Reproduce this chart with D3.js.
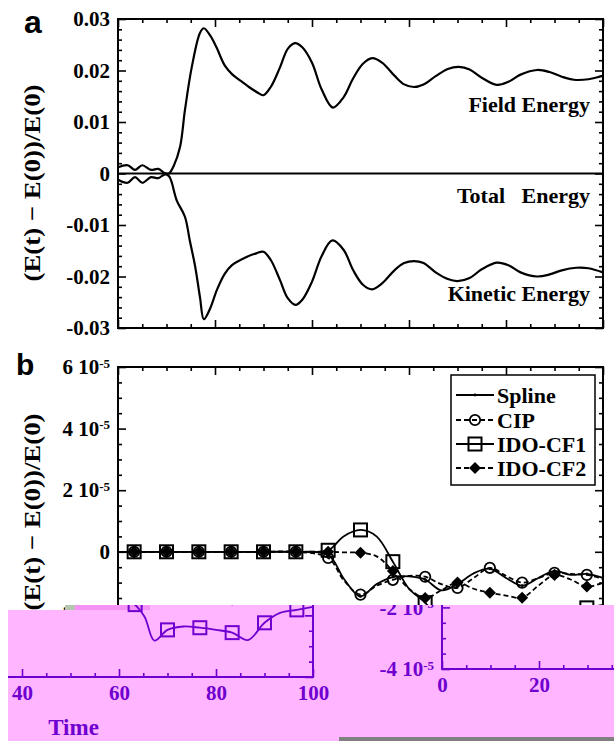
<!DOCTYPE html>
<html>
<head>
<meta charset="utf-8">
<script src="https://cdn.jsdelivr.net/npm/d3@7"></script>
<style>
  body { margin: 0; background: #fff; }
  svg { display: block; }
  text { font-family: "Liberation Serif", "Times New Roman", serif; font-weight: bold; }
</style>
</head>
<body>
<svg id="fig" width="614" height="741"></svg>
<script>
// ---------- Panel a: relative energy change ----------
const fieldT = [0, 2, 3.5, 5, 6.8, 8.3, 9.6, 10.5, 11.5, 12.8, 13.8, 15.2, 16.9, 17.7, 19, 20.3, 22, 23.5, 25, 27, 29, 30, 31.5, 33.4, 35, 36.5, 38, 40, 42, 44.3, 46.5, 48.5, 50.5, 52.4, 54.5, 57, 59, 61, 63, 65.5, 68, 70.3, 72.5, 75, 78.1, 80.5, 83, 86.4, 89, 91.5, 94, 97, 100];
const fieldV = [0.0012, 0.0016, 0.0007, 0.0016, 0.0007, 0.0009, 0.0001, 0.0, 0.0015, 0.0052, 0.0123, 0.0206, 0.0273, 0.0282, 0.0268, 0.0245, 0.021, 0.0193, 0.0182, 0.0168, 0.0156, 0.0152, 0.0168, 0.0206, 0.0242, 0.0253, 0.0245, 0.0215, 0.0163, 0.0128, 0.0148, 0.0185, 0.0213, 0.0224, 0.0215, 0.019, 0.0173, 0.0168, 0.0173, 0.0189, 0.0203, 0.0207, 0.0202, 0.0186, 0.0172, 0.0178, 0.0192, 0.0201, 0.0197, 0.0188, 0.0182, 0.0183, 0.019];

const kineticT = [0, 2, 3.5, 5, 6.8, 8.3, 9.6, 10.5, 11, 12.1, 13.8, 14.8, 15.9, 16.9, 17.7, 19, 20.4, 22, 23.5, 26.5, 28.5, 30, 31.5, 33.4, 35, 36.6, 38, 40, 42, 44.2, 46.5, 48.5, 50.5, 52.4, 54.5, 57, 59, 61, 63, 65.5, 68, 70, 72.5, 75, 78.1, 80.5, 83, 86.4, 89, 91.5, 94.5, 97, 100];
const kineticV = [-0.0012, -0.0018, -0.0007, -0.0018, -0.0007, -0.0009, -0.0002, -0.0005, -0.0015, -0.0052, -0.0084, -0.013, -0.018, -0.024, -0.0283, -0.0262, -0.0226, -0.0195, -0.0178, -0.0162, -0.0155, -0.0152, -0.0168, -0.0207, -0.0242, -0.0255, -0.0245, -0.021, -0.016, -0.013, -0.0148, -0.0188, -0.0216, -0.0225, -0.0213, -0.0188, -0.0174, -0.017, -0.0174, -0.0192, -0.0205, -0.0209, -0.0203, -0.0186, -0.0173, -0.0178, -0.0192, -0.02, -0.0196, -0.0188, -0.0183, -0.0184, -0.0192];

const totalT = [0, 25, 50, 75, 100];
const totalV = [0, 0, 0, 0, 0];

const yTicksA = [-0.03, -0.02, -0.01, 0, 0.01, 0.02, 0.03];
const yTickLabelsA = ["-0.03", "-0.02", "-0.01", "0", "0.01", "0.02", "0.03"];

// ---------- Panel b: energy error per scheme (units of 1e-5) ----------
const markerTimes = [3.33, 10, 16.67, 23.33, 30, 36.67, 43.33, 50, 56.67, 63.33, 70, 76.67, 83.33, 90, 96.67];

const schemeT = [0, 3.33, 10, 16.67, 23.33, 30, 36.67, 43.33, 46.67, 50, 53.33, 56.67, 60, 63.33, 66.67, 70, 73.33, 76.67, 80, 83.33, 86.67, 90, 93.33, 96.67, 100];
const splineV = [0, 0, 0, 0, 0, 0, 0, -0.1, -0.9, -1.45, -1.05, -0.82, -0.8, -0.9, -1.25, -1.05, -0.7, -0.55, -0.85, -1.1, -0.85, -0.62, -0.75, -0.72, -0.85];
const cipV    = [0, 0, 0, 0, 0, 0, 0, -0.2, -0.95, -1.39, -1.1, -0.91, -0.78, -0.81, -1.05, -1.17, -0.85, -0.52, -0.78, -1.0, -0.85, -0.68, -0.72, -0.75, -0.88];
const cf2V    = [0, 0, 0, 0, 0, 0, 0, 0, -0.02, -0.03, -0.15, -0.62, -1.2, -1.5, -1.25, -1.0, -1.2, -1.33, -1.42, -1.49, -1.1, -0.75, -0.9, -1.13, -1.0];

const cf1T = [0, 3.33, 10, 16.67, 23.33, 30, 36.67, 43.33, 46.5, 50, 53.3, 56.67, 60, 63.33, 65.3, 67.3, 70, 73.3, 76.67, 80, 83.33, 86.6, 90, 93.2, 96.67, 100];
const cf1V = [0, 0, 0, 0, 0, 0, 0, 0.05, 0.5, 0.71, 0.5, -0.32, -1.2, -1.65, -2.05, -2.82, -2.47, -2.36, -2.4, -2.47, -2.56, -2.8, -2.24, -1.92, -1.82, -1.72];

const seriesNames = ["Spline", "CIP", "IDO-CF1", "IDO-CF2"];
const yTicksB = [-4, -2, 0, 2, 4, 6];

const xTicks = [0, 20, 40, 60, 80, 100];

// ---------- layout ----------
const x = d3.scaleLinear().domain([0, 100]).range([118, 603]);
const yA = d3.scaleLinear().domain([-0.03, 0.03]).range([328, 19]);
const yB = d3.scaleLinear().domain([-4, 6]).range([675, 367]);

const PINK = "#ffb5ff", PURPLE = "#6f00cf";
const SPLIT = 333;   // where the shifted bottom band wraps around

const svg = d3.select("#fig");
const defs = svg.append("defs");
defs.append("clipPath").attr("id", "bandA").append("path").attr("d", `M8,610H65V605H${SPLIT}V741H8Z`);
defs.append("clipPath").attr("id", "bandB").append("rect")
  .attr("x", SPLIT).attr("y", 605).attr("width", 614 - SPLIT).attr("height", 136);

function styleAxis(g, ink) {
  g.select(".domain").remove();
  g.selectAll(".tick line").attr("stroke", ink).attr("stroke-width", 1.6);
  g.selectAll(".tick text").attr("fill", ink).attr("font-size", 21);
}

function frame(g, y, ink, opts) {
  const [b, t] = y.range();
  const [l, r] = x.range();
  const xMinor = d3.range(0, 101, 5).filter(v => v % 20 !== 0);
  const yMinor = opts.yMinor;
  const ax = [
    [d3.axisBottom(x).tickValues(xTicks).tickSize(-8).tickPadding(8).tickFormat(opts.xLabels ? d3.format("d") : () => ""), `translate(0,${b})`],
    [d3.axisBottom(x).tickValues(xMinor).tickSize(-4).tickFormat(() => ""), `translate(0,${b})`],
    [d3.axisTop(x).tickValues(xTicks).tickSize(-8).tickFormat(() => ""), `translate(0,${t})`],
    [d3.axisTop(x).tickValues(xMinor).tickSize(-4).tickFormat(() => ""), `translate(0,${t})`],
    [d3.axisRight(y).tickValues(opts.yMajor).tickSize(-8).tickFormat(() => ""), `translate(${r},0)`],
    [d3.axisRight(y).tickValues(yMinor).tickSize(-4).tickFormat(() => ""), `translate(${r},0)`],
    [d3.axisLeft(y).tickValues(yMinor).tickSize(-4).tickFormat(() => ""), `translate(${l},0)`],
    [d3.axisLeft(y).tickValues(opts.yMajor).tickSize(-8).tickPadding(8).tickFormat(() => ""), `translate(${l},0)`]
  ];
  let last;
  ax.forEach(([a, tr]) => {
    last = g.append("g").attr("transform", tr).call(a);
    styleAxis(last, ink);
  });
  last.selectAll(".tick text").each(opts.yLabel);
  g.append("rect").attr("x", l).attr("y", t).attr("width", r - l).attr("height", b - t)
    .attr("fill", "none").attr("stroke", ink).attr("stroke-width", 2);
}

function yTitle(g, cy, ink) {
  g.append("text")
    .attr("transform", `translate(40,${cy}) rotate(-90)`)
    .attr("text-anchor", "middle")
    .attr("font-size", 23)
    .attr("textLength", 197).attr("lengthAdjust", "spacingAndGlyphs")
    .attr("fill", ink)
    .text("(E(t) \u2212 E(0))/E(0)");
}

function drawAll(root, ink, fillBg) {
  // ----- panel a -----
  const ga = root.append("g");
  const lineA = d3.line().x(d => x(d[0])).y(d => yA(d[1])).curve(d3.curveCatmullRom.alpha(0.5));
  [[fieldT, fieldV], [kineticT, kineticV], [totalT, totalV]].forEach(([T, V]) => {
    ga.append("path").attr("d", lineA(T.map((t, i) => [t, V[i]])))
      .attr("fill", "none").attr("stroke", ink).attr("stroke-width", 2.2);
  });
  frame(ga, yA, ink, {
    yMajor: yTicksA,
    yMinor: d3.range(-0.03, 0.0301, 0.002).filter(v => Math.abs(Math.round(v * 100) - v * 100) > 1e-6),
    xLabels: false,
    yLabel: function (d) {
      d3.select(this).text(yTickLabelsA[yTicksA.indexOf(d)]);
    }
  });
  yTitle(ga, 183, ink);
  ga.append("text").attr("x", 24).attr("y", 33).attr("font-size", 32).attr("fill", ink)
    .style("font-family", "'Liberation Sans', Arial, sans-serif").text("a");
  const lab = [["Field Energy", 112], ["Total\u00a0\u00a0\u00a0Energy", 203], ["Kinetic Energy", 301]];
  lab.forEach(([s, yy]) => {
    ga.append("text").attr("x", 590).attr("y", yy).attr("text-anchor", "end")
      .attr("font-size", 22).attr("fill", ink).text(s);
  });

  // ----- panel b -----
  const gb = root.append("g");
  const lineB = d3.line().x(d => x(d[0])).y(d => yB(d[1])).curve(d3.curveCatmullRom.alpha(0.5));
  const series = [
    { name: seriesNames[0], T: schemeT, V: splineV, dash: null, mark: "dot" },
    { name: seriesNames[1], T: schemeT, V: cipV, dash: "5,3", mark: "circle" },
    { name: seriesNames[2], T: cf1T, V: cf1V, dash: null, mark: "square" },
    { name: seriesNames[3], T: schemeT, V: cf2V, dash: "5,3", mark: "diamond" }
  ];
  const isMarker = t => markerTimes.some(m => Math.abs(m - t) < 0.01);

  function marker(g, type, cx, cy) {
    if (type === "circle") {
      g.append("circle").attr("cx", cx).attr("cy", cy).attr("r", 5.2)
        .attr("fill", "none").attr("stroke", ink).attr("stroke-width", 1.8);
    } else if (type === "square") {
      g.append("rect").attr("x", cx - 6.5).attr("y", cy - 6.5).attr("width", 13).attr("height", 13)
        .attr("fill", "none").attr("stroke", ink).attr("stroke-width", 2);
    } else if (type === "diamond") {
      g.append("path").attr("d", `M${cx},${cy - 6}L${cx + 6},${cy}L${cx},${cy + 6}L${cx - 6},${cy}Z`)
        .attr("fill", ink);
    } else {
      g.append("circle").attr("cx", cx).attr("cy", cy).attr("r", 1.4).attr("fill", ink);
    }
  }

  series.forEach(s => {
    gb.append("path").attr("d", lineB(s.T.map((t, i) => [t, s.V[i]])))
      .attr("fill", "none").attr("stroke", ink).attr("stroke-width", 1.8)
      .attr("stroke-dasharray", s.dash);
  });
  series.forEach(s => {
    s.T.forEach((t, i) => { if (isMarker(t)) marker(gb, s.mark, x(t), yB(s.V[i])); });
  });

  frame(gb, yB, ink, {
    yMajor: yTicksB,
    yMinor: d3.range(-4, 6.01, 0.5).filter(v => v % 2 !== 0),
    xLabels: true,
    yLabel: function (d) {
      const t = d3.select(this).text(null);
      if (d === 0) { t.text("0"); return; }
      t.append("tspan").text(`${d} 10`);
      t.append("tspan").attr("dy", "-0.5em").attr("font-size", 13).text("-5");
    }
  });
  yTitle(gb, 512, ink);
  gb.append("text").attr("x", 16).attr("y", 375).attr("font-size", 30).attr("fill", ink)
    .style("font-family", "'Liberation Sans', Arial, sans-serif").text("b");
  gb.append("text").attr("x", x(50) + 3).attr("y", 733).attr("text-anchor", "middle")
    .attr("font-size", 23).attr("fill", ink).text("Time");

  // legend
  const lg = gb.append("g");
  lg.append("rect").attr("x", 451).attr("y", 375).attr("width", 144).attr("height", 110)
    .attr("fill", fillBg).attr("stroke", ink).attr("stroke-width", 1.5);
  const rowsY = [395, 420, 444, 468];
  series.forEach((s, i) => {
    const yy = rowsY[i];
    lg.append("line").attr("x1", 456).attr("x2", 494).attr("y1", yy).attr("y2", yy)
      .attr("stroke", ink).attr("stroke-width", 1.8).attr("stroke-dasharray", s.dash);
    marker(lg, s.mark, 475, yy);
    lg.append("text").attr("x", 497).attr("y", yy + 7.5).attr("font-size", 22)
      .attr("fill", ink).text(s.name);
  });
}

// full figure
drawAll(svg.append("g"), "#000", "#fff");

// displaced colour band along the bottom of the figure
svg.append("path").attr("d", "M8,610H65V605H614V741H8Z").attr("fill", PINK);
svg.append("rect").attr("x", 65).attr("y", 605).attr("width", 10).attr("height", 5).attr("fill", "#b6c6ae");
svg.append("rect").attr("x", 75).attr("y", 605).attr("width", 75).attr("height", 5).attr("fill", "#f592f5");
drawAll(svg.append("g").attr("clip-path", "url(#bandA)").append("g").attr("transform", "translate(-290,2)"), PURPLE, PINK);
drawAll(svg.append("g").attr("clip-path", "url(#bandB)").append("g").attr("transform", "translate(324,-6)"), PURPLE, PINK);
svg.append("rect").attr("x", 339).attr("y", 737).attr("width", 275).attr("height", 4).attr("fill", "#808080");
</script>
</body>
</html>
